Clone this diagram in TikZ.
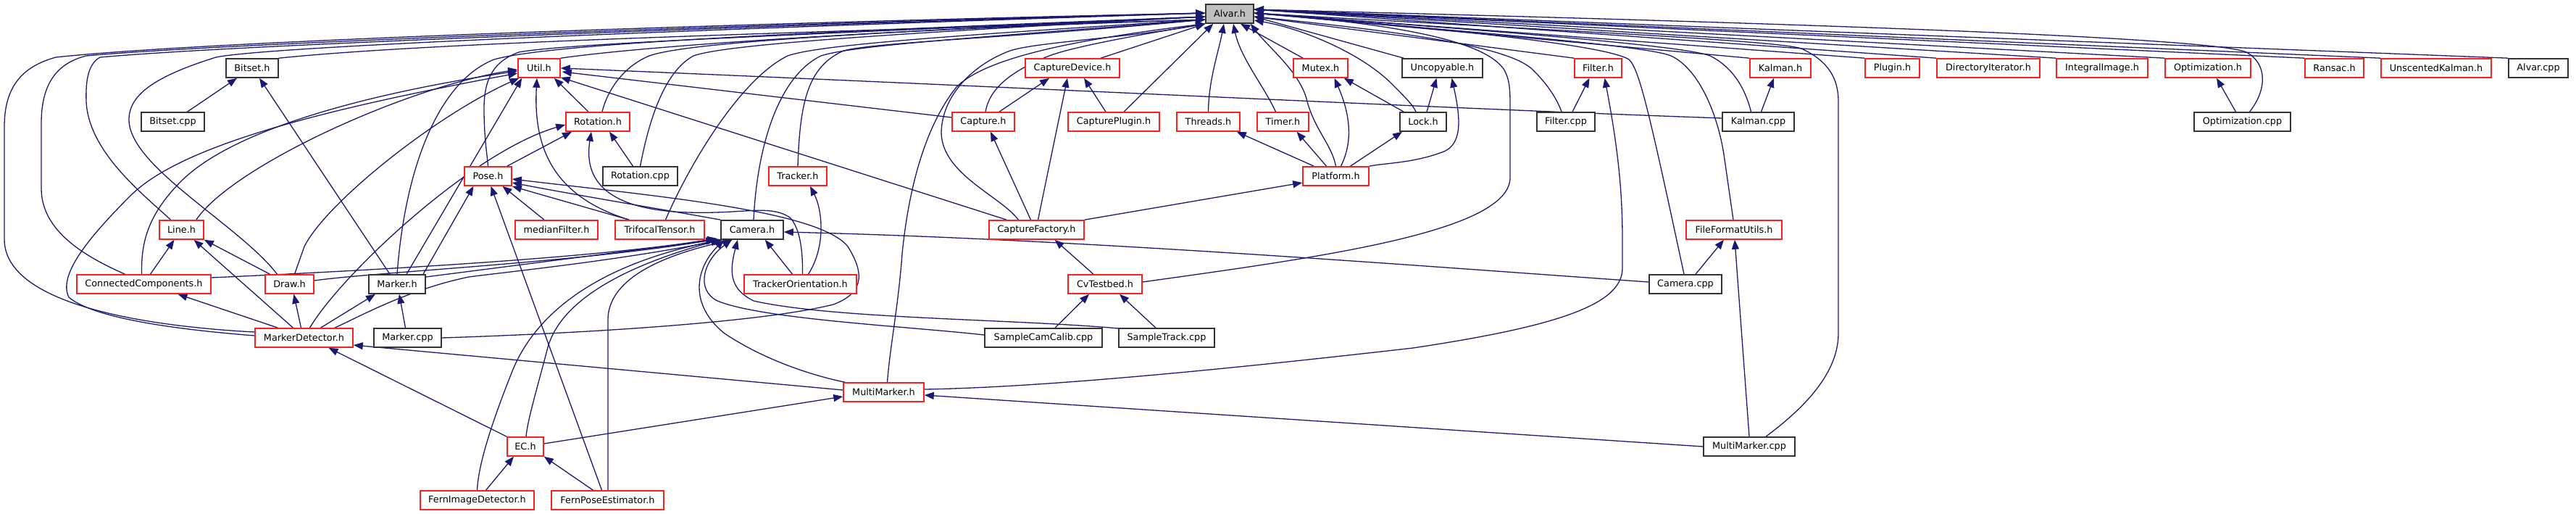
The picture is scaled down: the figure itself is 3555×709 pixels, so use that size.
\documentclass[tikz,border=0pt]{standalone}
\usepackage{fontspec}
\newfontfamily\dvsans{DejaVu Sans}
\usetikzlibrary{arrows.meta,calc}
\definecolor{mblue}{RGB}{25,25,112}
\definecolor{dred}{RGB}{255,30,30}
\definecolor{agray}{RGB}{191,191,191}
\newcommand\dgfont{\dvsans\fontsize{12.8}{15}\selectfont}
\pgfdeclarelayer{bg}
\pgfsetlayers{bg,main}
\tikzset{
  bx/.style={draw=black!80, line width=1.6pt, fill=white, minimum height=26pt, inner sep=0pt, font=\dgfont, text=black},
  rx/.style={bx, draw=dred},
  ax/.style={bx, fill=agray},
  dep/.style={draw=mblue, line width=1.3pt, {Triangle[length=13pt,width=10pt]}-}
}
\begin{document}
\begin{tikzpicture}[x=1pt,y=-1pt]
\useasboundingbox (0,0) rectangle (3555,709);
% row 0
\node[ax, minimum width=66] (A) at (1697,19) {Alvar.h};
% row 1
\node[bx, minimum width=72] (bitseth) at (348,94) {Bitset.h};
\node[rx, minimum width=58] (util) at (744,94) {Util.h};
\node[rx, minimum width=130] (capdev) at (1480,94) {CaptureDevice.h};
\node[rx, minimum width=75] (mutex) at (1822.5,94) {Mutex.h};
\node[bx, minimum width=111] (uncop) at (1990.5,94) {Uncopyable.h};
\node[rx, minimum width=65] (filterh) at (2205.5,94) {Filter.h};
\node[rx, minimum width=84] (kalmanh) at (2457,94) {Kalman.h};
\node[rx, minimum width=75] (plugin) at (2611.5,94) {Plugin.h};
\node[rx, minimum width=142] (diriter) at (2744,94) {DirectoryIterator.h};
\node[rx, minimum width=126] (integral) at (2901,94) {IntegralImage.h};
\node[rx, minimum width=118] (optimh) at (3047,94) {Optimization.h};
\node[rx, minimum width=81] (ransac) at (3221.5,94) {Ransac.h};
\node[rx, minimum width=152] (ukf) at (3362,94) {UnscentedKalman.h};
\node[bx, minimum width=82] (alvarcpp) at (3503,94) {Alvar.cpp};
% row 2
\node[bx, minimum width=87] (bitsetcpp) at (238.5,168) {Bitset.cpp};
\node[rx, minimum width=88] (rotation) at (825,168) {Rotation.h};
\node[rx, minimum width=86] (capture) at (1357,168) {Capture.h};
\node[rx, minimum width=126] (capplug) at (1537,168) {CapturePlugin.h};
\node[rx, minimum width=87] (threads) at (1667.5,168) {Threads.h};
\node[rx, minimum width=71] (timer) at (1770.5,168) {Timer.h};
\node[bx, minimum width=64] (lock) at (1964,168) {Lock.h};
\node[bx, minimum width=80] (filtercpp) at (2161,168) {Filter.cpp};
\node[bx, minimum width=99] (kalmancpp) at (2426.5,168) {Kalman.cpp};
\node[bx, minimum width=133] (optimcpp) at (3094.5,168) {Optimization.cpp};
% row 3
\node[rx, minimum width=65] (pose) at (673.5,243) {Pose.h};
\node[bx, minimum width=103] (rotcpp) at (883.5,243) {Rotation.cpp};
\node[rx, minimum width=80] (tracker) at (1101,243) {Tracker.h};
\node[rx, minimum width=91] (platform) at (1843.5,243) {Platform.h};
% row 4
\node[rx, minimum width=61] (line) at (250.5,317) {Line.h};
\node[rx, minimum width=114] (median) at (768,317) {medianFilter.h};
\node[rx, minimum width=123] (trifocal) at (910.5,317) {TrifocalTensor.h};
\node[bx, minimum width=86] (camera) at (1038,317) {Camera.h};
\node[rx, minimum width=131] (capfact) at (1430.5,317) {CaptureFactory.h};
\node[rx, minimum width=132] (ffu) at (2393,317) {FileFormatUtils.h};
% row 5
\node[rx, minimum width=185] (cc) at (198.5,392) {ConnectedComponents.h};
\node[rx, minimum width=67] (draw) at (399.5,392) {Draw.h};
\node[bx, minimum width=78] (marker) at (548,392) {Marker.h};
\node[rx, minimum width=155] (trackor) at (1104.5,392) {TrackerOrientation.h};
\node[rx, minimum width=102] (cvtest) at (1525,392) {CvTestbed.h};
\node[bx, minimum width=100] (cameracpp) at (2326,392) {Camera.cpp};
% row 6
\node[rx, minimum width=135] (md) at (419.5,466) {MarkerDetector.h};
\node[bx, minimum width=93] (markercpp) at (562.5,466) {Marker.cpp};
\node[bx, minimum width=162] (samplecal) at (1440,466) {SampleCamCalib.cpp};
\node[bx, minimum width=132] (sampletrack) at (1610,466) {SampleTrack.cpp};
% row 7
\node[rx, minimum width=111] (mm) at (1219.5,541) {MultiMarker.h};
% row 8
\node[rx, minimum width=50] (ec) at (725,616) {EC.h};
\node[bx, minimum width=126] (mmcpp) at (2414,616) {MultiMarker.cpp};
% row 9
\node[rx, minimum width=157] (fid) at (658.5,690) {FernImageDetector.h};
\node[rx, minimum width=155] (fpe) at (838.5,690) {FernPoseEstimator.h};

% Alvar.h end points
\coordinate (AL2) at ($(A.west)+(0,-1)$);
\coordinate (AL3) at ($(A.west)+(0,4)$);
\coordinate (AL4) at ($(A.west)+(0,8)$);
\coordinate (AL5) at (A.south west);
\coordinate (AB1) at ($(A.south west)+(11,0)$);
\coordinate (AB2) at ($(A.south)+(-8,0)$);
\coordinate (AB3) at ($(A.south)+(5,0)$);
\coordinate (AB4) at ($(A.south)+(15,0)$);
\coordinate (AB5) at ($(A.south east)+(-5,0)$);
\coordinate (AR1) at ($(A.east)+(0,-6)$);
\coordinate (AR2) at ($(A.east)+(0,-1)$);
\coordinate (AR3) at ($(A.east)+(0,4)$);
\coordinate (AR4) at ($(A.east)+(0,9)$);

\begin{pgfonlayer}{bg}
% ---- edges into Alvar.h
\draw[dep] (AL2) .. controls (1100,30) and (300,55) .. (77,79) .. controls (30,92) and (6,120) .. (6,175) -- (6,330) .. controls (6,420) and (200,450) .. ($(md.west)+(0,-8)$);
\draw[dep] (AL2) .. controls (1100,32) and (330,58) .. (119,77) .. controls (75,88) and (57,120) .. (57,170) -- (57,260) .. controls (57,320) and (120,355) .. ($(cc.north)+(-26,0)$);
\draw[dep] (AL2) .. controls (1100,34) and (350,60) .. (138,79) .. controls (122,88) and (118,110) .. (119,140) .. controls (122,210) and (200,270) .. ($(line.north)+(-15,0)$);
\draw[dep] (AL2) .. controls (1100,36) and (380,62) .. (298,79) .. controls (215,105) and (178,130) .. (178,165) .. controls (178,230) and (330,310) .. ($(draw.north)+(-17,0)$);
\draw[dep] (AL4) .. controls (1100,45) and (600,58) .. (bitseth.north east);
\draw[dep] (AL4) .. controls (1250,40) and (900,62) .. (util.north east);
\draw[dep] (AL3) .. controls (1100,45) and (760,60) .. (682,82) .. controls (610,110) and (560,220) .. (marker.north);
\draw[dep] (AL3) .. controls (1100,48) and (780,60) .. (716,72) .. controls (680,85) and (668,110) .. (668,150) .. controls (668,190) and (672,210) .. (pose.north);
\draw[dep] (AL3) .. controls (1200,45) and (950,58) .. (896,77) .. controls (860,92) and (838,125) .. ($(rotation.north)+(6,0)$);
\draw[dep] (AL3) .. controls (1200,48) and (1000,62) .. (957,77) .. controls (915,100) and (895,170) .. (rotcpp.north);
\draw[dep] (AL4) .. controls (1300,50) and (1130,62) .. (1087,77) .. controls (1020,110) and (950,230) .. ($(trifocal.north)+(8,0)$);
\draw[dep] (AL4) .. controls (1350,52) and (1180,62) .. (1133,77) .. controls (1075,105) and (1045,200) .. ($(camera.north)+(2,0)$);
\draw[dep] (AL4) .. controls (1400,52) and (1210,58) .. (1164,70) .. controls (1115,92) and (1104,140) .. (tracker.north);
\draw[dep] (AL5) .. controls (1560,50) and (1480,65) .. (1448,77) .. controls (1390,100) and (1365,125) .. ($(capture.north)+(3,0)$);
\draw[dep] (AL5) -- ($(capdev.north)+(39,0)$);
\draw[dep] (AB1) -- ($(capplug.north)+(14,0)$);
\draw[dep] (AL5) .. controls (1560,52) and (1430,58) .. (1394,70) .. controls (1345,88) and (1300,130) .. (1299,183) .. controls (1300,240) and (1380,270) .. ($(capfact.north)+(-25,0)$);
\draw[dep] (AB2) .. controls (1682,70) and (1668,110) .. (threads.north);
\draw[dep] (AB3) .. controls (1712,80) and (1745,120) .. ($(timer.north)+(-10,0)$);
\draw[dep] (AB4) -- ($(mutex.north west)+(14,0)$);
\draw[dep] (AB5) .. controls (1750,65) and (1795,100) .. (1804,140) .. controls (1815,180) and (1838,200) .. (platform.north);
\draw[dep] (AR4) .. controls (1800,40) and (1880,75) .. (1920,115) .. controls (1940,135) and (1950,145) .. ($(lock.north)+(-10,0)$);
\draw[dep] (AR3) -- ($(uncop.north west)+(3,0)$);
\draw[dep] (AR3) -- (filterh.north west);
\draw[dep] (AR3) .. controls (1950,45) and (2080,65) .. (2114,95) .. controls (2138,118) and (2150,140) .. ($(filtercpp.north)+(-6,0)$);
\draw[dep] (AR2) .. controls (1950,35) and (2050,60) .. (2075,95) .. controls (2084,110) and (2084,125) .. (2084,150) -- (2084,245) .. controls (2084,320) and (1820,355) .. ($(cvtest.east)+(0,-3)$);
\draw[dep] (AR2) .. controls (2000,40) and (2215,62) .. (2248,82) .. controls (2262,95) and (2275,150) .. ($(cameracpp.north)+(-2,0)$);
\draw[dep] (AR2) .. controls (2000,42) and (2270,62) .. (2306,77) .. controls (2345,95) and (2372,160) .. (2380,220) -- ($(ffu.north)+(-1,0)$);
\draw[dep] (AR2) -- (kalmanh.north west);
\draw[dep] (AR2) .. controls (2050,42) and (2320,62) .. (2360,77) .. controls (2390,92) and (2408,120) .. ($(kalmancpp.north)+(-10,0)$);
\draw[dep] (AR2) -- (plugin.north west);
\draw[dep] (AR1) -- (diriter.north west);
\draw[dep] (AR1) -- (integral.north west);
\draw[dep] (AR1) -- (optimh.north west);
\draw[dep] (AR1) .. controls (2400,30) and (3050,50) .. (3100,72) .. controls (3130,88) and (3128,125) .. ($(optimcpp.north)+(10,0)$);
\draw[dep] (AR1) -- (ransac.north west);
\draw[dep] (AR1) -- (ukf.north west);
\draw[dep] (AR1) -- (alvarcpp.north west);
\draw[dep] (AL5) .. controls (1480,55) and (1360,80) .. (1320,120) .. controls (1280,170) and (1255,250) .. (1245,350) .. controls (1240,420) and (1228,480) .. ($(mm.north)+(5,0)$);
\draw[dep] (AR2) .. controls (2100,40) and (2450,55) .. (2486,67) .. controls (2525,85) and (2537,110) .. (2537,140) -- (2537,460) .. controls (2537,520) and (2480,570) .. ($(mmcpp.north)+(23,0)$);
% ---- other edges
\draw[dep] ($(bitseth.south)+(-21,0)$) -- ($(bitsetcpp.north)+(20,0)$);
\draw[dep] ($(bitseth.south)+(10,0)$) -- ($(marker.north)+(-10,0)$);
\draw[dep] ($(line.south)+(-10,0)$) -- ($(cc.north)+(9,0)$);
\draw[dep] ($(line.south)+(17,0)$) -- ($(md.north)+(-15,0)$);
\draw[dep] (line.south east) -- ($(draw.north)+(-27,0)$);
\draw[dep] ($(util.west)+(0,2)$) .. controls (560,120) and (320,230) .. ($(line.north east)+(-11,0)$);
\draw[dep] ($(util.west)+(0,4)$) .. controls (500,130) and (320,180) .. (250,250) .. controls (200,300) and (195,340) .. ($(cc.north)+(-3,0)$);
\draw[dep] ($(util.west)+(0,7)$) .. controls (450,150) and (250,200) .. (180,270) .. controls (120,330) and (80,380) .. (95,410) .. controls (130,440) and (250,455) .. ($(md.west)+(0,-3)$);
\draw[dep] ($(util.south west)+(2,0)$) .. controls (600,160) and (450,280) .. (420,340) -- ($(draw.north)+(7,0)$);
\draw[dep] ($(util.south west)+(6,0)$) -- ($(marker.north)+(13,0)$);
\draw[dep] ($(rotation.west)+(0,4)$) .. controls (650,210) and (470,380) .. ($(md.north)+(8,0)$);
\draw[dep] ($(cc.south)+(47,0)$) -- ($(md.north)+(-36,0)$);
\draw[dep] ($(draw.south)+(6,0)$) -- ($(md.north)+(-4,0)$);
\draw[dep] ($(marker.south)+(-30,0)$) -- ($(md.north)+(23,0)$);
\draw[dep] ($(camera.south west)+(3,0)$) .. controls (850,360) and (700,375) .. (647,382) .. controls (560,400) and (490,440) .. ($(md.north east)+(-26,0)$);
\draw[dep] ($(marker.south)+(3,0)$) -- ($(markercpp.north)+(-3,0)$);
\draw[dep] ($(pose.east)+(0,4)$) .. controls (900,270) and (1130,290) .. (1170,340) .. controls (1195,380) and (1190,405) .. (1150,420) .. controls (1050,445) and (800,460) .. (markercpp.east);
\draw[dep] ($(pose.south)+(-20,0)$) -- ($(marker.north)+(36,0)$);
\draw[dep] ($(camera.south west)+(-7,0)$) -- ($(marker.east)+(0,-10)$);
\draw[dep] ($(camera.south west)+(-5,-2)$) .. controls (800,360) and (400,378) .. ($(cc.east)+(0,-9)$);
\draw[dep] ($(camera.south west)+(-5,-1)$) .. controls (800,362) and (520,375) .. ($(draw.east)+(0,-5)$);
\draw[dep] ($(rotation.south)+(-36,0)$) -- ($(pose.north east)+(-7,0)$);
\draw[dep] ($(util.south east)+(-9,0)$) -- ($(rotation.north)+(-13,0)$);
\draw[dep] ($(util.south)+(-3,0)$) .. controls (736,200) and (760,270) .. ($(trifocal.north west)+(20,0)$);
\draw[dep] ($(rotation.south)+(16,0)$) -- ($(rotcpp.north)+(-10,0)$);
\draw[dep] ($(pose.south)+(20,0)$) -- ($(median.north)+(-17,0)$);
\draw[dep] ($(pose.south)+(4,0)$) -- ($(fpe.north)+(-8,0)$);
\draw[dep] ($(pose.east)+(0,14)$) -- ($(trifocal.north west)+(20,0)$);
\draw[dep] ($(pose.east)+(0,9)$) .. controls (800,270) and (950,295) .. (camera.north west);
\draw[dep] ($(rotation.south)+(-9,0)$) .. controls (805,250) and (840,285) .. (930,292) .. controls (1020,298) and (1060,280) .. (1090,300) .. controls (1105,315) and (1108,350) .. ($(trackor.north)+(3,0)$);
\draw[dep] ($(camera.south east)+(-26,0)$) -- ($(trackor.north)+(-11,0)$);
\draw[dep] ($(tracker.south)+(17,0)$) .. controls (1135,290) and (1140,340) .. ($(trackor.north)+(11,0)$);
\draw[dep] ($(camera.east)+(0,3)$) .. controls (1500,330) and (2000,370) .. ($(cameracpp.west)+(0,-3)$);
\draw[dep] ($(camera.south)+(-28,0)$) .. controls (970,360) and (960,400) .. (990,415) .. controls (1050,440) and (1250,450) .. ($(samplecal.west)+(0,-4)$);
\draw[dep] ($(camera.south)+(-20,0)$) .. controls (1005,380) and (1010,400) .. (1040,415) .. controls (1150,440) and (1400,440) .. ($(sampletrack.west)+(0,-13)$);
\draw[dep] ($(camera.south west)+(5,0)$) .. controls (960,370) and (950,420) .. (1000,460) .. controls (1060,500) and (1130,520) .. ($(mm.north west)+(3,0)$);
\draw[dep] (camera.south west) .. controls (850,370) and (770,420) .. (755,483) .. controls (740,540) and (728,580) .. ($(ec.north)+(1,0)$);
\draw[dep] (camera.south west) .. controls (800,370) and (730,450) .. (705,517) .. controls (680,580) and (660,640) .. (fid.north);
\draw[dep] ($(camera.south)+(-27,0)$) .. controls (900,355) and (840,390) .. (839,440) -- ($(fpe.north)+(0.5,0)$);
\draw[dep] ($(md.south)+(34,0)$) -- (ec.north west);
\draw[dep] ($(mm.west)+(0,6)$) -- ($(ec.east)+(0,-4)$);
\draw[dep] ($(md.east)+(0,10)$) -- ($(mm.west)+(0,-3)$);
\draw[dep] ($(ec.south)+(-16,0)$) -- ($(fid.north)+(12,0)$);
\draw[dep] (ec.south east) -- ($(fpe.north)+(-20,0)$);
\draw[dep] ($(mm.east)+(0,4)$) -- (mmcpp.west);
\draw[dep] ($(filterh.south)+(9,0)$) .. controls (2232,200) and (2239,260) .. (2239,330) -- (2239,370) .. controls (2239,420) and (2150,450) .. (1950,480) .. controls (1600,520) and (1400,535) .. ($(mm.east)+(0,-4)$);
\draw[dep] ($(filterh.south)+(-12,0)$) -- ($(filtercpp.north)+(9,0)$);
\draw[dep] ($(kalmanh.south)+(-9,0)$) -- ($(kalmancpp.north)+(4,0)$);
\draw[dep] (util.east) .. controls (1400,120) and (2000,150) .. ($(kalmancpp.west)+(0,-5)$);
\draw[dep] ($(util.east)+(2,5)$) -- ($(capture.west)+(0,-6)$);
\draw[dep] ($(util.south east)+(0,-1)$) -- ($(capfact.north west)+(25,0)$);
\draw[dep] ($(capture.south)+(10,0)$) -- ($(capfact.north)+(-8,0)$);
\draw[dep] ($(capdev.south)+(-7,0)$) -- ($(capfact.north)+(2,0)$);
\draw[dep] ($(capdev.south)+(-32,0)$) -- ($(capture.north)+(22,0)$);
\draw[dep] ($(capdev.south)+(16,0)$) -- ($(capplug.north)+(-11,0)$);
\draw[dep] ($(platform.west)+(0,9)$) -- (capfact.north east);
\draw[dep] ($(capfact.south)+(25,0)$) -- ($(cvtest.north)+(-16,0)$);
\draw[dep] ($(cvtest.south)+(-22,0)$) -- ($(samplecal.north)+(16,0)$);
\draw[dep] ($(cvtest.south)+(20,0)$) -- ($(sampletrack.north)+(-15,0)$);
\draw[dep] ($(threads.south east)+(-5,0)$) -- ($(platform.north west)+(16,0)$);
\draw[dep] ($(timer.south)+(19,0)$) -- ($(platform.north)+(-13,0)$);
\draw[dep] ($(mutex.south)+(19,0)$) .. controls (1860,150) and (1870,190) .. ($(platform.north)+(7,0)$);
\draw[dep] ($(lock.south)+(-29,0)$) -- ($(platform.north)+(20,0)$);
\draw[dep] ($(uncop.south)+(13,0)$) .. controls (2015,160) and (2020,200) .. (1990,210) .. controls (1950,225) and (1910,225) .. (platform.north east);
\draw[dep] ($(mutex.south east)+(-6,0)$) -- ($(lock.north west)+(6,0)$);
\draw[dep] ($(uncop.south)+(-8,0)$) -- ($(lock.north)+(5,0)$);
\draw[dep] ($(optimh.south)+(12,0)$) -- ($(optimcpp.north)+(-9,0)$);
\draw[dep] ($(ffu.south)+(1,0)$) -- (mmcpp.north);
\draw[dep] ($(ffu.south)+(-14,0)$) -- ($(cameracpp.north)+(14,0)$);
\end{pgfonlayer}
\end{tikzpicture}
\end{document}
